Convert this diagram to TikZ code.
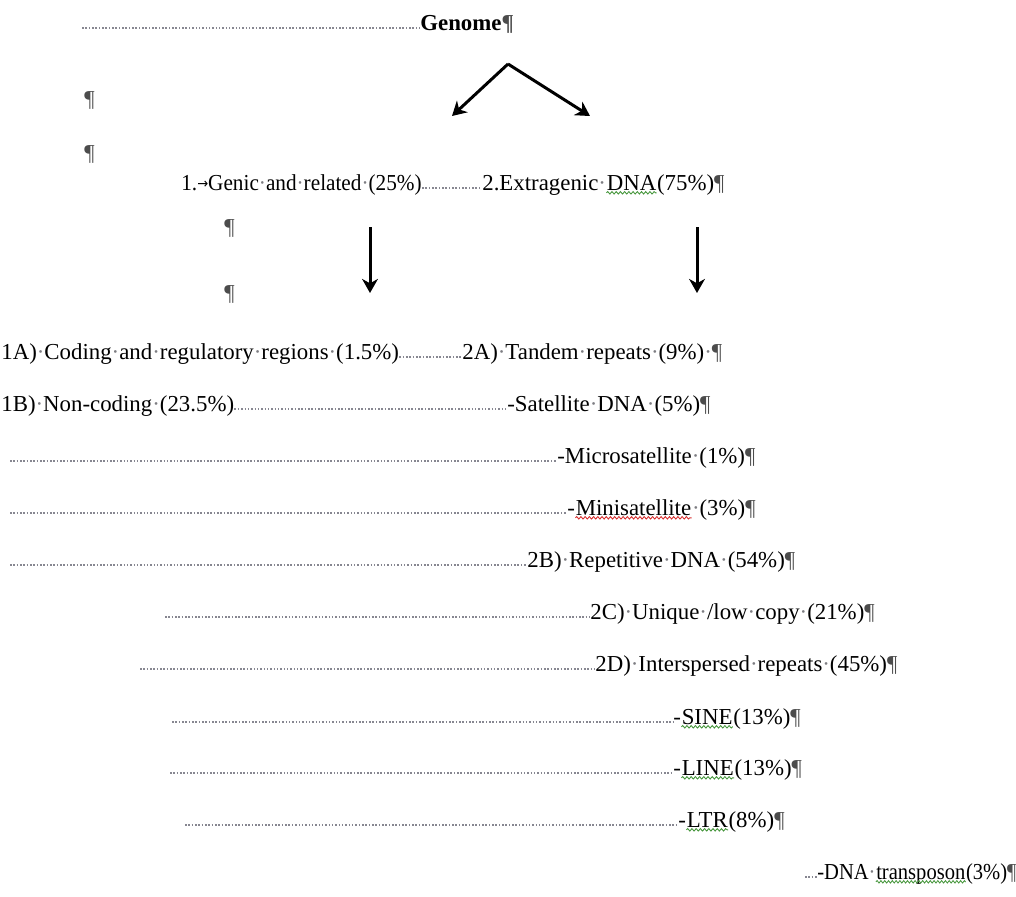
\documentclass[tikz,border=0pt]{standalone}
\usepackage{fontspec}
\setmainfont{Liberation Serif}
\newfontfamily\symfont{DejaVu Sans}
\usetikzlibrary{arrows.meta, positioning, decorations.pathmorphing}
\definecolor{markgray}{RGB}{125,125,130}
\definecolor{leadgray}{RGB}{135,135,145}
\definecolor{spellred}{RGB}{215,45,45}
\definecolor{spellgreen}{RGB}{70,150,60}
\newcommand{\sd}{\textcolor{markgray}{·}}
\newcommand{\pil}{\textcolor{black!70}{¶}}
\newcommand{\tabarrow}{{\symfont\fontsize{8}{8}\selectfont\raisebox{1pt}{→}}}
\tikzset{
    txt/.style = {inner sep=0pt, anchor=base west, font=\fontsize{13}{15}\selectfont},
    narrow/.style = {xscale=#1, transform shape},
    leader/.style = {leadgray, line width=0.9pt, densely dotted},
    arrow/.style = {line width=1.7pt, -{Stealth[length=8pt, width=9pt, inset=2.5pt]}},
    wave/.style = {line width=0.5pt, decorate, decoration={snake, amplitude=0.7pt, segment length=2.4pt}}
}
\newcommand{\spellmark}[2]{\tikz[baseline=(w.base)]{\node[inner sep=0pt] (w) {#2};
    \draw[wave, #1] ([yshift=-1.6pt]w.base west) -- ([yshift=-1.6pt]w.base east);}}
\newcommand{\redwave}[1]{\spellmark{spellred}{#1}}
\newcommand{\greenwave}[1]{\spellmark{spellgreen}{#1}}
\begin{document}
\begin{tikzpicture}[x=0.02cm, y=-0.02cm]
\useasboundingbox (0,0) rectangle (1016,896);
% Top line
\coordinate (g0) at (82,30);
\node (genome) [txt, font=\fontsize{13}{15}\selectfont\bfseries] at (420,30) {Genome\pil};
\node (p1) [txt] at (84,106) {\pil};
\node (p2) [txt] at (84,160) {\pil};

% Split arrows
\coordinate (apex) at (508,64);
\coordinate (ltip) at (452,116);
\coordinate (rtip) at (590,116);

% First level
\node (genic) [txt, narrow=0.93] at (181,190) {1.\tabarrow Genic\sd and\sd related\sd(25\%)};
\node (ext) [txt] at (482,190) {2.Extragenic\sd\greenwave{DNA}(75\%)\pil};
\node (p3) [txt] at (224,234) {\pil};
\node (p4) [txt] at (224,300) {\pil};
\coordinate (d1) at (370,227);
\coordinate (d1e) at (370,293);
\coordinate (d2) at (697,227);
\coordinate (d2e) at (697,293);

% Second level
\node (coding) [txt] at (1,359) {1A)\sd Coding\sd and\sd regulatory\sd regions\sd(1.5\%)};
\node (tand) [txt] at (462,359) {2A)\sd Tandem\sd repeats\sd(9\%)\sd\pil};
\node (noncod) [txt] at (1,411) {1B)\sd Non-coding\sd(23.5\%)};
\node (sat) [txt] at (507,411) {-Satellite\sd DNA\sd(5\%)\pil};
\coordinate (m0) at (10,463);
\node (micro) [txt] at (557,463) {-Microsatellite\sd(1\%)\pil};
\coordinate (n0) at (10,515);
\node (mini) [txt] at (567,515) {-\redwave{Minisatellite}\sd(3\%)\pil};
\coordinate (r0) at (10,567);
\node (rep) [txt] at (527,567) {2B)\sd Repetitive\sd DNA\sd(54\%)\pil};
\coordinate (u0) at (165,619);
\node (uniq) [txt] at (590,619) {2C)\sd Unique\sd/low\sd copy\sd(21\%)\pil};
\coordinate (i0) at (140,671);
\node (inter) [txt] at (595,671) {2D)\sd Interspersed\sd repeats\sd(45\%)\pil};
\coordinate (s0) at (172,724);
\node (sine) [txt] at (673,724) {-\greenwave{SINE}(13\%)\pil};
\coordinate (l0) at (170,775);
\node (line) [txt] at (673,775) {-\greenwave{LINE}(13\%)\pil};
\coordinate (t0) at (185,827);
\node (ltr) [txt] at (678,827) {-\greenwave{LTR}(8\%)\pil};
\coordinate (k0) at (805,879);
\node (trans) [txt, narrow=0.9] at (817,879) {-DNA\sd\greenwave{transposon}(3\%)\pil};

% Arrows
\draw [arrow] (apex) -- (ltip);
\draw [arrow] (apex) -- (rtip);
\draw [arrow] (d1) -- (d1e);
\draw [arrow] (d2) -- (d2e);

% Tab leaders
\draw [leader] ([yshift=1pt]g0) -- ([yshift=1pt]genome.base west);
\draw [leader] ([yshift=1pt]genic.base east) -- ([yshift=1pt]ext.base west);
\draw [leader] ([yshift=1pt]coding.base east) -- ([yshift=1pt]tand.base west);
\draw [leader] ([yshift=1pt]noncod.base east) -- ([yshift=1pt]sat.base west);
\draw [leader] ([yshift=1pt]m0) -- ([yshift=1pt]micro.base west);
\draw [leader] ([yshift=1pt]n0) -- ([yshift=1pt]mini.base west);
\draw [leader] ([yshift=1pt]r0) -- ([yshift=1pt]rep.base west);
\draw [leader] ([yshift=1pt]u0) -- ([yshift=1pt]uniq.base west);
\draw [leader] ([yshift=1pt]i0) -- ([yshift=1pt]inter.base west);
\draw [leader] ([yshift=1pt]s0) -- ([yshift=1pt]sine.base west);
\draw [leader] ([yshift=1pt]l0) -- ([yshift=1pt]line.base west);
\draw [leader] ([yshift=1pt]t0) -- ([yshift=1pt]ltr.base west);
\draw [leader] ([yshift=1pt]k0) -- ([yshift=1pt]trans.base west);
\end{tikzpicture}
\end{document}
